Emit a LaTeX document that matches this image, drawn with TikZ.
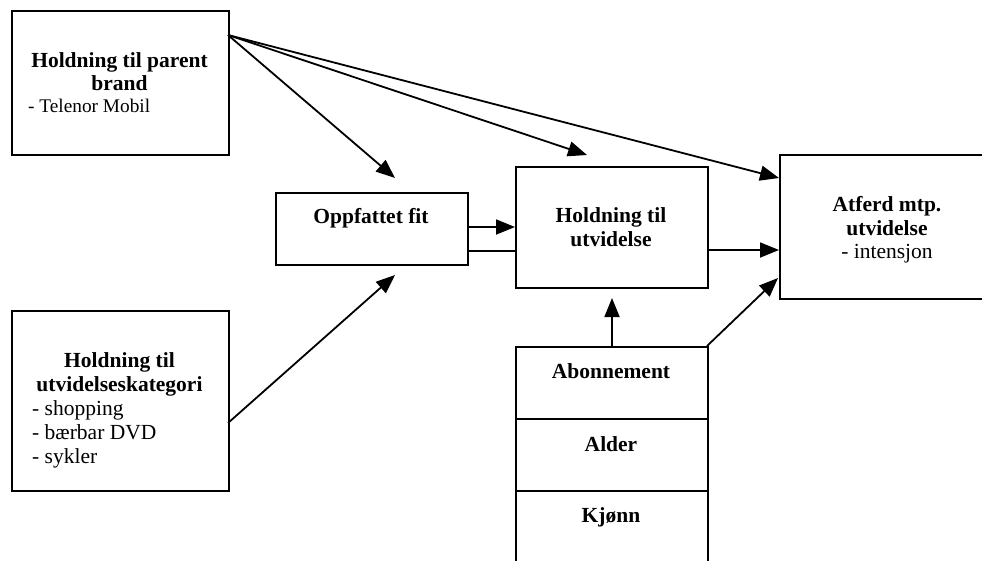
\documentclass[tikz,border=0pt]{standalone}
\usepackage{fontspec}
\setmainfont{Liberation Serif}
\usetikzlibrary{arrows.meta}
\tikzset{
  box/.style={draw, line width=2pt, inner sep=0pt, anchor=north west},
  hd/.style={inner sep=0pt, anchor=base, font=\fontsize{21.5}{24}\selectfont\bfseries},
  it/.style={inner sep=0pt, anchor=base west, font=\fontsize{21.5}{24}\selectfont},
  itc/.style={inner sep=0pt, anchor=base, font=\fontsize{21.5}{24}\selectfont},
  its/.style={inner sep=0pt, anchor=base west, font=\fontsize{19.3}{22}\selectfont},
  con/.style={line width=1.8pt},
  arr/.style={line width=1.8pt, -{Triangle[length=19pt,width=15pt]}}
}
\begin{document}
\begin{tikzpicture}[x=1pt,y=-1pt]
\useasboundingbox (0,0) rectangle (982,560);
\clip (0,0) rectangle (982,560);
% boxes
\node[box, minimum width=217pt, minimum height=144pt] (b1) at (11,10) {};
\node[box, minimum width=217pt, minimum height=180pt] (b2) at (11,310) {};
\node[box, minimum width=192pt, minimum height=72pt] (fit) at (275,192) {};
\node[box, minimum width=192pt, minimum height=121pt] (hold) at (515,166) {};
\node[box, minimum width=215pt, minimum height=144pt] (atf) at (779,154) {};
\node[box, minimum width=192pt, minimum height=72pt] (abo) at (515,346) {};
\node[box, minimum width=192pt, minimum height=72pt] (ald) at (515,418) {};
\node[box, minimum width=192pt, minimum height=80pt] (kjo) at (515,490) {};
% texts
\node[hd] (t1a) at (119.5,67) {Holdning til parent};
\node[hd] (t1b) at (119.5,90.5) {brand};
\node[its] (t1c) at (28,112) {- Telenor Mobil};
\node[hd] (t2a) at (119.5,367) {Holdning til};
\node[hd] (t2b) at (119.5,391) {utvidelseskategori};
\node[it] (t2c) at (32,415) {- shopping};
\node[it] (t2d) at (32,439) {- bærbar DVD};
\node[it] (t2e) at (32,463) {- sykler};
\node[hd] (t3) at (371,223) {Oppfattet fit};
\node[hd] (t4a) at (611,222) {Holdning til};
\node[hd] (t4b) at (611,246) {utvidelse};
\node[hd] (t5a) at (887,211) {Atferd mtp.};
\node[hd] (t5b) at (887,235) {utvidelse};
\node[itc] (t5c) at (887,258) {- intensjon};
\node[hd] (t6) at (611,378) {Abonnement};
\node[hd] (t7) at (611,451) {Alder};
\node[hd] (t8) at (611,522) {Kjønn};
% connector points
\coordinate (p1) at (228,35);
\coordinate (q1) at (395,178);
\coordinate (q2) at (587,155);
\coordinate (q3) at (779,178);
\coordinate (p2) at (228,423);
\coordinate (q4) at (395,275);
\coordinate (f1) at (467,227);
\coordinate (h1) at (515,227);
\coordinate (f2) at (467,251);
\coordinate (h2) at (515,251);
\coordinate (h3) at (707,250);
\coordinate (a1) at (779,250);
\coordinate (s1) at (612,346);
\coordinate (s2) at (612,298);
\coordinate (s3) at (707,346);
\coordinate (a2) at (778,278);
% connectors
\draw[arr] (p1) -- (q1);
\draw[arr] (p1) -- (q2);
\draw[arr] (p1) -- (q3);
\draw[arr] (p2) -- (q4);
\draw[arr] (f1) -- (h1);
\draw[con] (f2) -- (h2);
\draw[arr] (h3) -- (a1);
\draw[arr] (s1) -- (s2);
\draw[arr] (s3) -- (a2);
\end{tikzpicture}
\end{document}
